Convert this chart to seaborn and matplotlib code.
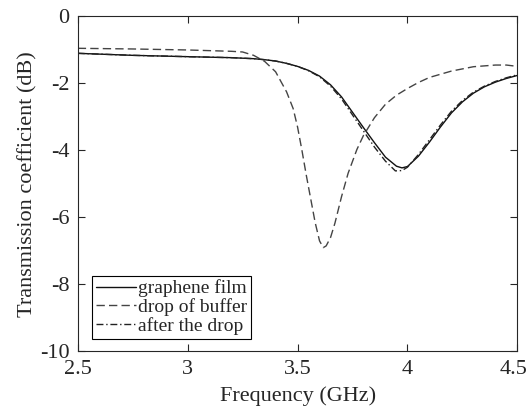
import matplotlib
matplotlib.use('Agg')
import matplotlib.pyplot as plt
import matplotlib.transforms as mtransforms
import seaborn as sns
import pandas as pd

# Dữ liệu
freq_film = [2.5, 2.75, 3.0, 3.2, 3.3, 3.35, 3.4, 3.45, 3.5, 3.55, 3.6, 3.65, 3.7,
             3.75, 3.8, 3.85, 3.9, 3.95, 3.975, 4.0, 4.05, 4.1, 4.15, 4.2, 4.25,
             4.3, 4.35, 4.4, 4.45, 4.5]
s21_film = [-1.10, -1.16, -1.20, -1.23, -1.26, -1.29, -1.33, -1.40, -1.49, -1.61,
            -1.78, -2.04, -2.40, -2.86, -3.32, -3.77, -4.20, -4.47, -4.52, -4.48,
            -4.17, -3.75, -3.30, -2.88, -2.55, -2.29, -2.10, -1.96, -1.85, -1.76]

freq_buffer = [2.5, 2.75, 3.0, 3.2, 3.25, 3.3, 3.35, 3.4, 3.45, 3.48, 3.5, 3.52,
               3.54, 3.56, 3.58, 3.6, 3.617, 3.63, 3.65, 3.67, 3.7, 3.73, 3.77,
               3.8, 3.85, 3.9, 3.95, 4.0, 4.05, 4.1, 4.2, 4.3, 4.4, 4.45, 4.5]
s21_buffer = [-0.95, -0.97, -1.00, -1.04, -1.06, -1.16, -1.34, -1.65, -2.25, -2.75,
              -3.30, -4.00, -4.75, -5.45, -6.15, -6.70, -6.90, -6.85, -6.60, -6.17,
              -5.38, -4.68, -3.97, -3.55, -3.02, -2.62, -2.35, -2.15, -1.97, -1.82,
              -1.63, -1.50, -1.45, -1.45, -1.49]

freq_after = [2.5, 2.75, 3.0, 3.2, 3.3, 3.35, 3.4, 3.45, 3.5, 3.55, 3.6, 3.65, 3.7,
              3.75, 3.8, 3.85, 3.9, 3.945, 3.975, 4.0, 4.05, 4.1, 4.15, 4.2, 4.25,
              4.3, 4.35, 4.4, 4.45, 4.5]
s21_after = [-1.10, -1.16, -1.20, -1.23, -1.26, -1.29, -1.33, -1.40, -1.49, -1.62,
             -1.80, -2.08, -2.46, -2.94, -3.42, -3.90, -4.32, -4.61, -4.60, -4.50,
             -4.12, -3.68, -3.24, -2.83, -2.51, -2.26, -2.08, -1.94, -1.83, -1.74]

labels = ['graphene film', 'drop of buffer', 'after the drop']

df = pd.concat([
    pd.DataFrame({'freq': freq_film, 's21': s21_film, 'sample': labels[0]}),
    pd.DataFrame({'freq': freq_buffer, 's21': s21_buffer, 'sample': labels[1]}),
    pd.DataFrame({'freq': freq_after, 's21': s21_after, 'sample': labels[2]}),
], ignore_index=True)

sns.set_style('ticks')
plt.rcParams['font.family'] = ['Liberation Serif', 'DejaVu Serif']
plt.rcParams['axes.unicode_minus'] = False

fig = plt.figure(figsize=(5.29, 4.12), dpi=100)
ax = fig.add_axes([0.147, 0.147, 0.831, 0.813])

sns.lineplot(data=df, x='freq', y='s21', hue='sample', style='sample',
             hue_order=labels, style_order=labels,
             palette={labels[0]: '#111111', labels[1]: '#444444', labels[2]: '#222222'},
             dashes={labels[0]: '', labels[1]: (6, 3), labels[2]: (5, 2, 1, 2)},
             estimator=None, sort=False, linewidth=1.0, ax=ax)

ax.set_xlim(2.5, 4.5)
ax.set_ylim(-10, 0)
ax.set_xticks([2.5, 3, 3.5, 4, 4.5])
ax.set_xticklabels(['2.5', '3', '3.5', '4', '4.5'])
ax.set_yticks([-10, -8, -6, -4, -2, 0])
ax.set_yticklabels(['-10', '-8', '-6', '-4', '-2', '0'])

ax.set_xlabel('Frequency (GHz)', fontsize=16, color='#262626', va='top')
ax.xaxis.set_label_coords(0.5, -0.103)
ax.set_ylabel('Transmission coefficient (dB)', fontsize=16, color='#262626', labelpad=2)
ax.tick_params(direction='in', top=True, right=True, length=5, width=0.8,
               labelsize=16, colors='#262626', pad=6)
for sp in ax.spines.values():
    sp.set_color('#262626')
    sp.set_linewidth(0.8)

# dịch nhãn 4.5 sang trái một chút để không bị cắt
last = ax.get_xticklabels()[-1]
last.set_transform(last.get_transform() + mtransforms.ScaledTranslation(-4 / 100, 0, fig.dpi_scale_trans))

handles, _ = ax.get_legend_handles_labels()
leg = ax.legend(handles[-3:], labels, loc='lower left', bbox_to_anchor=(0.0316, 0.0373),
                borderaxespad=0, fontsize=14, handlelength=2.1, handletextpad=0.1,
                labelspacing=0.05, borderpad=0.2, fancybox=False, framealpha=1,
                edgecolor='#000000')
leg.get_frame().set_linewidth(0.8)

fig.savefig('out.png', dpi=100)
